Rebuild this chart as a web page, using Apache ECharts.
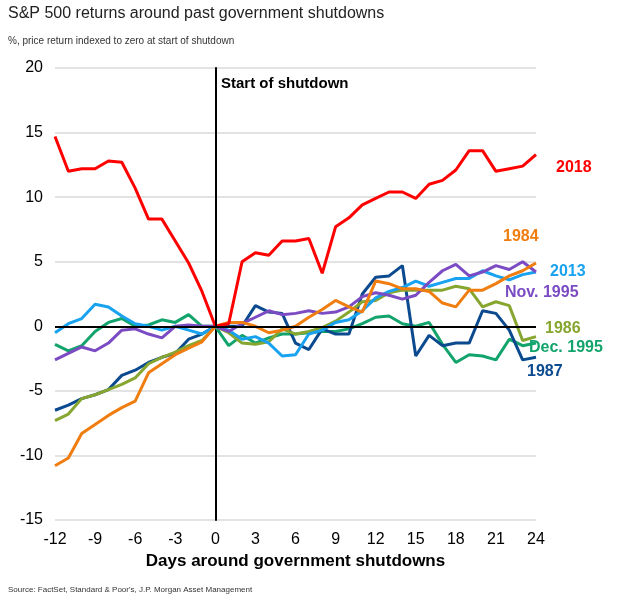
<!DOCTYPE html>
<html>
<head>
    <meta charset='UTF-8'>
    <script src="https://cdn.jsdelivr.net/npm/echarts@6/dist/echarts.min.js"></script>
    <style>
        body { margin: 0; background: #fff; }
        #chart { width: 634px; height: 599px; }
    </style>
</head>
<body>
    <div id="chart"></div>
    <script>
        var days = [];
        for (var d = -12; d <= 24; d++) days.push(d);

        var s2018 = [14.7, 12.0, 12.2, 12.2, 12.8, 12.7, 10.7, 8.3, 8.3, 6.6, 4.9, 2.7, 0, 0.2, 5.0, 5.7, 5.5, 6.6, 6.6, 6.8, 4.1, 7.7, 8.4, 9.4, 9.9, 10.4, 10.4, 9.9, 11.0, 11.3, 12.1, 13.6, 13.6, 12.0, 12.2, 12.4, 13.3];
        var s2013 = [-0.5, 0.2, 0.6, 1.7, 1.5, 0.8, 0.2, 0.0, -0.3, 0.0, -0.3, -0.6, 0, -0.3, -1.0, -0.8, -1.3, -2.3, -2.2, -0.6, -0.3, 0.3, 0.5, 1.2, 2.2, 2.7, 3.0, 3.5, 3.1, 3.4, 3.7, 3.7, 4.3, 3.9, 3.6, 4.0, 4.2];
        var sNov1995 = [-2.6, -2.1, -1.6, -1.9, -1.3, -0.3, -0.2, -0.6, -0.9, 0.0, 0.1, 0.0, 0, -0.4, 0.2, 0.7, 1.2, 0.9, 1.0, 1.2, 1.0, 1.1, 1.5, 2.3, 2.6, 2.4, 2.1, 2.4, 3.4, 4.3, 4.8, 3.9, 4.2, 4.7, 4.4, 5.0, 4.2];
        var s1987 = [-6.5, -6.1, -5.6, -5.3, -4.9, -3.8, -3.4, -2.8, -2.4, -2.1, -1.0, -0.6, 0, 0.0, 0.0, 1.6, 1.1, 1.0, -1.3, -1.8, -0.2, -0.6, -0.6, 2.5, 3.8, 3.9, 4.7, -2.3, -0.7, -1.5, -1.3, -1.3, 1.2, 1.0, -0.3, -2.6, -2.4];
        var sDec1995 = [-1.4, -1.9, -1.5, -0.4, 0.3, 0.6, 0.0, 0.1, 0.5, 0.3, 0.9, 0.0, 0, -1.5, -0.7, -1.3, -0.9, -0.6, -0.6, -0.5, -0.4, -0.4, -0.2, 0.2, 0.7, 0.8, 0.2, 0.0, 0.3, -1.4, -2.8, -2.2, -2.3, -2.6, -1.0, -1.5, -1.3];
        var s1986 = [-7.3, -6.8, -5.6, -5.3, -4.9, -4.5, -4.0, -2.9, -2.4, -2.0, -1.5, -1.1, 0, -0.5, -1.3, -1.4, -1.2, -0.2, -0.6, -0.4, -0.1, 0.4, 1.1, 1.9, 2.0, 2.6, 2.8, 2.8, 2.8, 2.8, 3.1, 2.9, 1.5, 1.9, 1.6, -1.1, -0.8];
        var s1984 = [-10.8, -10.2, -8.3, -7.6, -6.9, -6.3, -5.8, -3.6, -2.9, -2.2, -1.7, -1.2, 0, 0.3, 0.3, 0.0, -0.5, -0.3, 0.0, 0.7, 1.3, 2.0, 1.5, 1.1, 3.5, 3.3, 2.9, 2.9, 2.7, 1.8, 1.5, 2.8, 2.8, 3.3, 3.9, 4.3, 4.9];

        function pairs(vals) {
            return days.map(function (d, i) { return [d, vals[i]]; });
        }

        function line(name, color, vals) {
            return {
                name: name, type: 'line', data: pairs(vals), showSymbol: false,
                lineStyle: { color: color, width: 3 }, itemStyle: { color: color },
                animation: false
            };
        }

        var series = [
            line('Dec. 1995', '#12a46c', sDec1995),
            line('1987', '#0b4a8e', s1987),
            line('1986', '#86a630', s1986),
            line('2013', '#18a2f0', s2013),
            line('Nov. 1995', '#7b4bc4', sNov1995),
            line('1984', '#f07d10', s1984),
            line('2018', '#ff0000', s2018)
        ];
        // zero line
        series[0].markLine = {
            silent: true, symbol: 'none', label: { show: false }, animation: false,
            lineStyle: { color: '#000', type: 'solid', width: 2 },
            data: [{ yAxis: 0 }]
        };
        // shutdown marker
        series[1].markLine = {
            silent: true, symbol: 'none', label: { show: false }, animation: false,
            lineStyle: { color: '#000', type: 'dashed', width: 2 },
            data: [{ xAxis: 0 }]
        };

        var labels = [
            { text: '2018', x: 556, y: 160, color: '#ff0000' },
            { text: '1984', x: 503, y: 229, color: '#f07d10' },
            { text: '2013', x: 550, y: 264, color: '#18a2f0' },
            { text: 'Nov. 1995', x: 505, y: 285, color: '#7b4bc4' },
            { text: '1986', x: 545, y: 321, color: '#86a630' },
            { text: 'Dec. 1995', x: 529, y: 340, color: '#12a46c' },
            { text: '1987', x: 527, y: 364, color: '#0b4a8e' }
        ];

        var chart = echarts.init(document.getElementById('chart'));
        chart.setOption({
            backgroundColor: '#fff',
            textStyle: { fontFamily: 'Liberation Sans, Arial, sans-serif' },
            grid: { left: 55, right: 98, top: 68, bottom: 79 },
            xAxis: {
                type: 'value', min: -12, max: 24, interval: 3,
                name: 'Days around government shutdowns', nameLocation: 'middle', nameGap: 28,
                nameTextStyle: { fontSize: 17, fontWeight: 'bold', color: '#000' },
                axisLine: { onZero: false, show: false },
                axisTick: { show: false },
                axisLabel: { fontSize: 16, color: '#000', margin: 12 },
                splitLine: { show: false }
            },
            yAxis: {
                type: 'value', min: -15, max: 20, interval: 5,
                axisLine: { show: true, lineStyle: { color: '#000', width: 2 } },
                axisTick: { show: false },
                axisLabel: { fontSize: 16, color: '#000', margin: 12 },
                splitLine: { lineStyle: { color: '#e3e3e3', width: 2 } }
            },
            series: series,
            graphic: [
                { type: 'text', left: 8, top: 6, style: { text: 'S&P 500 returns around past government shutdowns', fontSize: 16, fill: '#222', fontFamily: 'Liberation Sans, Arial, sans-serif' } },
                { type: 'text', left: 8, top: 36, style: { text: '%, price return indexed to zero at start of shutdown', fontSize: 10, fill: '#333', fontFamily: 'Liberation Sans, Arial, sans-serif' } },
                { type: 'text', left: 221, top: 76, style: { text: 'Start of shutdown', fontSize: 15, fontWeight: 'bold', fill: '#000', fontFamily: 'Liberation Sans, Arial, sans-serif' } },
                { type: 'text', left: 8, top: 586, style: { text: "Source: FactSet, Standard & Poor's, J.P. Morgan Asset Management", fontSize: 8, fill: '#333', fontFamily: 'Liberation Sans, Arial, sans-serif' } }
            ].concat(labels.map(function (l) {
                return { type: 'text', left: l.x, top: l.y, style: { text: l.text, fontSize: 16, fontWeight: 'bold', fill: l.color, fontFamily: 'Liberation Sans, Arial, sans-serif' } };
            }))
        });
    </script>
</body>
</html>
